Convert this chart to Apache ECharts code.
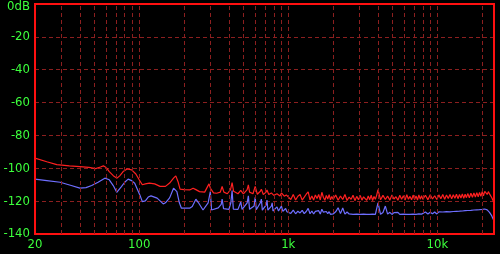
<!DOCTYPE html>
<html>
<head>
<meta charset="utf-8">
<script src="https://cdn.jsdelivr.net/npm/echarts@6/dist/echarts.min.js"></script>
<style>html,body{margin:0;padding:0;background:#000;}#c{width:500px;height:254px;}</style>
</head>
<body>
<div id="c"></div>
<script>
// Low-frequency part (smooth)
var lowFreqRed = [20,24,28,34,40,46,51,55,57.5,60,63,67,71,74,78,83,89,95,100,105,110,117,127,138,150,160,170,176,182,188,200,218,230,240,254,275,288,294,300,315,331,350,360,370,390,410,420,430,460,480,500,530,540,550,580,600,620,650,660,680,710,720,740,770,780,800,840,880,900,940,970];
var lowRed = [-93.8,-96,-97.8,-98.5,-99,-99.5,-100.2,-99.2,-98.5,-99.5,-102,-104.5,-106,-104.6,-102,-100.4,-101,-103.5,-107,-110,-109.5,-109,-109.5,-111,-111,-109,-106,-104.6,-108,-112.7,-113,-113.2,-112.1,-113,-114.2,-114.5,-111,-109.5,-112,-115,-115.2,-114.5,-111.1,-114.5,-115.5,-113,-108.7,-114,-115.5,-113.5,-115.6,-113,-110.1,-114.5,-115.5,-111,-115.8,-114,-112.7,-116,-114.5,-113.2,-116,-115,-114,-116.5,-115.5,-116.8,-115,-117,-116.2];

var lowFreqBlue = [20,24,29.5,35,40,44,48,53,58.8,63,67,70.7,76,80,84.3,89,93.3,98,101,105,110,115,120,132,145,150,160,170,179,186,192,218,227,240,250,268,290,300,306,339,355,360,368,400,412,420,428,460,480,490,530,540,550,590,600,610,650,660,670,715,720,730,770,780,790,840,860,900,920,960,980];
var lowBlue = [-106.6,-107.5,-108.5,-110.5,-112.1,-111.8,-110.5,-108.5,-106,-107,-110.5,-114.6,-111.1,-108.5,-106.6,-107.5,-109.1,-113.5,-116.2,-120.3,-119.8,-117.5,-116.8,-118.2,-121.7,-121,-118,-112.1,-114.2,-121,-124.3,-124.3,-123.3,-118.8,-121,-125.4,-121,-114.2,-125.4,-124.1,-122,-118.8,-124.5,-125,-121,-113.5,-124.8,-125,-120.5,-125,-121,-116.8,-125,-123,-117.6,-125.2,-121,-118.8,-125.5,-122,-119.3,-125.5,-123,-121,-126,-123.5,-126,-123,-126.2,-124.5,-126.5];

// High-frequency (noisy) part, shared frequency list
var highFreq = [1000,1040,1080,1120,1160,1200,1240,1280,1320,1360,1400,1440,1480,1520,1560,1600,1640,1680,1720,1760,1800,1840,1880,1920,1960,
2000,2080,2160,2240,2320,2400,2480,2560,2640,2720,2800,2880,2960,3040,3120,3200,3280,3360,3440,3520,3600,3680,3760,3840,3920,
4000,4160,4320,4480,4640,4800,4960,5120,5280,5440,5600,5760,5920,6080,6240,6400,6560,6720,6880,7040,7200,7360,7520,7680,7840,
8000,8320,8640,8960,9280,9600,9920,10240,10560,10880,11200,11520,11840,12160,12480,12800,13120,13440,13760,14080,14400,14720,15040,15360,15680,
16000,16400,16800,17200,17600,18000,18400,18800,19200,19600,20000,20400,20800,21200,21600,22000,22400,22800,23200,23600,24000];
var highRed = [-116.8,-119.0,-115.9,-119.3,-117.0,-116.0,-119.4,-117.6,-115.8,-114.3,-119.2,-116.9,-119.3,-116.2,-118.4,-115.9,-119.3,-114.6,-117.6,-119.5,-116.5,-118.7,-116.0,-119.2,-117.2,
-118.9,-116.3,-119.5,-116.9,-119.0,-116.0,-119.6,-117.5,-118.9,-116.4,-119.7,-117.1,-119.2,-116.5,-119.4,-117.4,-116.2,-119.5,-116.9,-119.1,-116.4,-119.6,-117.2,-118.9,-116.3,
-113.0,-119.2,-116.5,-119.0,-116.9,-119.4,-116.2,-118.7,-117.3,-119.5,-116.4,-118.9,-116.7,-119.3,-116.1,-118.8,-117.1,-119.2,-116.3,-119.0,-116.8,-119.3,-116.2,-118.8,-116.7,
-118.9,-116.4,-119.1,-116.1,-118.7,-116.7,-119.0,-116.2,-118.5,-116.0,-118.8,-116.3,-118.4,-115.9,-118.6,-116.1,-118.2,-115.8,-118.5,-116.0,-118.1,-115.6,-118.3,-115.8,-117.9,
-115.4,-117.9,-115.2,-117.6,-115.0,-117.5,-114.9,-117.3,-114.7,-117.1,-114.3,-116.8,-114.0,-112.9,-115.9,-114.2,-115.6,-116.8,-117.9,-119.4,-121.2];
var highBlue = [-125.7,-127.5,-125.5,-127.7,-126.1,-127.2,-125.6,-127.6,-126.3,-124.4,-127.7,-126.0,-127.8,-126.2,-127.3,-125.8,-127.9,-124.9,-126.7,-127.8,-126.3,-127.7,-126.4,-128.0,-126.8,
-127.8,-126.5,-124.0,-127.6,-124.2,-127.9,-126.6,-127.8,-126.7,-128.0,-126.8,-127.9,-126.7,-128.1,-126.9,-127.9,-126.7,-128.0,-126.8,-128.1,-126.9,-127.9,-126.8,-128.1,-127.0,
-121.0,-128.0,-126.9,-123.0,-127.9,-126.8,-128.1,-127.0,-128.0,-126.8,-128.1,-127.0,-127.9,-126.8,-128.0,-127.1,-128.1,-126.9,-127.9,-126.8,-128.0,-127.0,-127.8,-126.8,-127.9,
-127.6,-126.6,-127.8,-126.7,-127.7,-126.6,-127.8,-126.5,-127.6,-126.6,-127.7,-126.4,-127.5,-126.5,-127.6,-126.3,-127.4,-126.2,-127.3,-126.1,-127.2,-126.0,-127.1,-125.8,-126.9,
-125.7,-126.8,-125.6,-126.7,-125.4,-126.5,-125.3,-126.3,-125.2,-126.2,-125.0,-126.0,-124.8,-124.5,-125.3,-125.6,-126.8,-127.8,-129.0,-130.5,-132.0];

var gridFreqs = [30,40,50,60,70,80,90,100,200,300,400,500,600,700,800,900,1000,2000,3000,4000,5000,6000,7000,8000,9000,10000,20000];

function pairs(fs, vs){ var out=[]; for(var i=0;i<fs.length;i++) out.push([fs[i], vs[i]]); return out; }
var redData = pairs(lowFreqRed, lowRed).concat(pairs(highFreq, highRed));
var blueData = pairs(lowFreqBlue, lowBlue).concat(pairs(highFreq, highBlue));

var GREEN = '#3cff3c';
var FONT = "'Liberation Sans Narrow','DejaVu Sans Condensed',sans-serif";
var chart = echarts.init(document.getElementById('c'), null, {renderer:'canvas'});
chart.setOption({
  backgroundColor: '#000',
  animation: false,
  grid: {left: 35, right: 6, top: 4, bottom: 20, show: true, borderColor: '#ff1010', borderWidth: 2, backgroundColor: 'transparent', z: 5},
  xAxis: {
    type: 'log', logBase: 10, min: 20, max: 24000,
    axisLine: {show: false}, axisTick: {show: false}, splitLine: {show: false},
    axisLabel: {color: GREEN, fontFamily: FONT, fontSize: 13, margin: 4,
      formatter: function(v){ if (v > 20000) return ''; return v >= 1000 ? (Math.round(v/1000)) + 'k' : String(Math.round(v)); }}
  },
  yAxis: {
    type: 'value', min: -140, max: 0, interval: 20,
    axisLine: {show: false}, axisTick: {show: false},
    splitLine: {show: true, lineStyle: {color: '#8c1f1f', type: [4,3], width: 1}},
    axisLabel: {color: GREEN, fontFamily: FONT, fontSize: 13, margin: 5,
      formatter: function(v){ return v === 0 ? '{t|0dB}' : String(v); },
      rich: {t: {color: GREEN, fontFamily: FONT, fontSize: 13, padding: [6,0,0,0]}}}
  },
  series: [
    {type: 'line', data: [], silent: true, z: 1,
      markLine: {silent: true, symbol: 'none', animation: false, label: {show: false},
        lineStyle: {color: '#8c1f1f', type: [4,3], width: 1},
        data: gridFreqs.map(function(f){ return {xAxis: f}; })}},
    {type: 'line', data: redData, showSymbol: false, symbol: 'none', z: 3,
      lineStyle: {color: '#ff2020', width: 1.2}},
    {type: 'line', data: blueData, showSymbol: false, symbol: 'none', z: 3,
      lineStyle: {color: '#6e6eff', width: 1.2}}
  ]
});
</script>
</body>
</html>
